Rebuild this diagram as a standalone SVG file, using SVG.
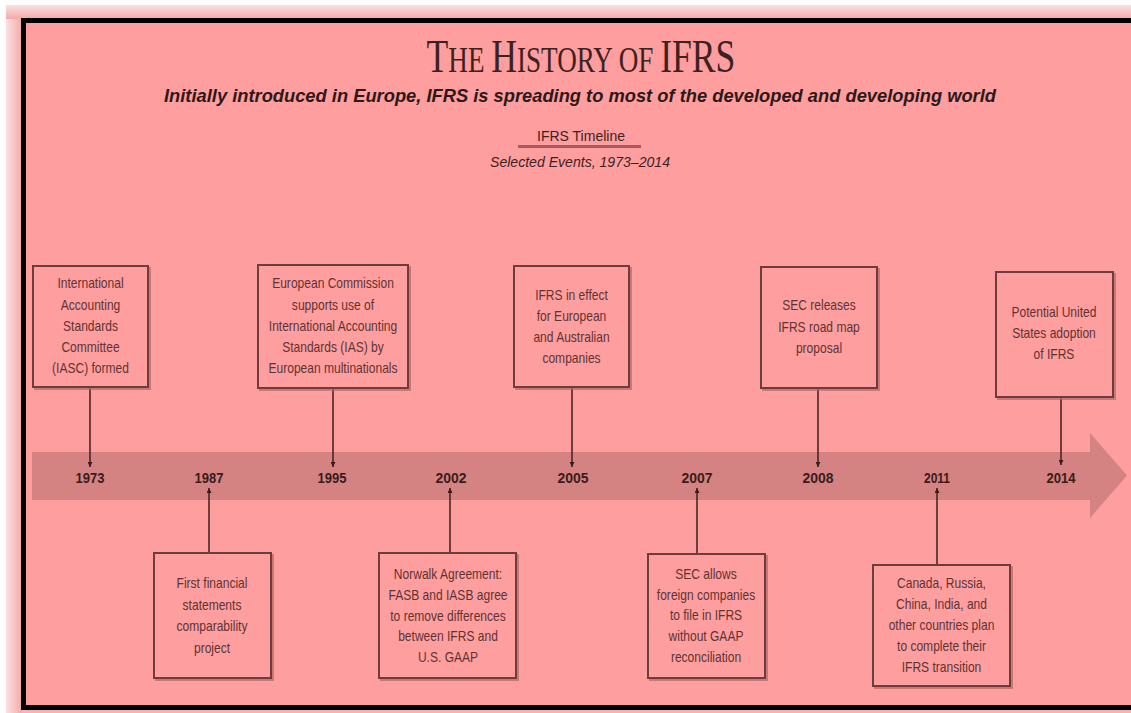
<svg xmlns="http://www.w3.org/2000/svg" width="1131" height="713" viewBox="0 0 1131 713">
<style>
.box{fill:#FE9E9E;stroke:#6E3C3C;stroke-width:2}
.shadow{fill:none;stroke:#B06868;stroke-width:2;opacity:0.7}
.bt{font-family:"Liberation Sans",Arial,sans-serif;font-size:14px;fill:#5E3333;text-anchor:middle}
.yr{font-family:"Liberation Sans",Arial,sans-serif;font-size:15px;font-weight:bold;fill:#3A1C1C;text-anchor:middle}
.conn{stroke:#4A2626;stroke-width:1.6;fill:none}
</style>
<defs>
<marker id="ah" viewBox="0 0 8 8" refX="8" refY="4" markerWidth="5" markerHeight="5" orient="auto" markerUnits="userSpaceOnUse">
<path d="M0,0 L8,4 L0,8 z" fill="#3A1C1C"/>
</marker>
<linearGradient id="gl" x1="0" y1="0" x2="1" y2="0">
<stop offset="0" stop-color="#FCE0E0"/><stop offset="1" stop-color="#F3A9A9"/>
</linearGradient>
<linearGradient id="gt" x1="0" y1="0" x2="0" y2="1">
<stop offset="0" stop-color="#FCE0E0"/><stop offset="1" stop-color="#F3A9A9"/>
</linearGradient>
</defs>
<rect x="0" y="0" width="1131" height="713" fill="#FFFFFF"/>
<rect x="6" y="5" width="1125" height="708" fill="#F6B3B3"/>
<rect x="6" y="5" width="16" height="708" fill="url(#gl)"/>
<rect x="6" y="5" width="1125" height="14" fill="url(#gt)"/>
<rect x="23.5" y="20.5" width="1130" height="687" fill="#FE9E9E" stroke="#000000" stroke-width="5"/>

<g id="title">
<text transform="translate(581,72) scale(0.775,1)" x="0" y="0" text-anchor="middle" font-family="'Liberation Serif','Times New Roman',serif" fill="#3E2222"><tspan font-size="46">T</tspan><tspan font-size="35">HE </tspan><tspan font-size="46">H</tspan><tspan font-size="35">ISTORY OF </tspan><tspan font-size="46">IFRS</tspan></text>
<text x="580" y="102" text-anchor="middle" font-family="'Liberation Sans',Arial,sans-serif" font-size="18" font-weight="bold" font-style="italic" fill="#2E1818" textLength="832" lengthAdjust="spacingAndGlyphs">Initially introduced in Europe, IFRS is spreading to most of the developed and developing world</text>
<text x="581" y="141" text-anchor="middle" font-family="'Liberation Sans',Arial,sans-serif" font-size="14" fill="#3E2222" textLength="88" lengthAdjust="spacingAndGlyphs">IFRS Timeline</text>
<rect x="518" y="145" width="123" height="3" fill="#A85A62"/>
<text x="580" y="167" text-anchor="middle" font-family="'Liberation Sans',Arial,sans-serif" font-size="14" font-style="italic" fill="#3E2222" textLength="180" lengthAdjust="spacingAndGlyphs">Selected Events, 1973–2014</text>
</g>

<g id="timeline">
<path d="M32,452 H1090 V433 L1127,475.5 L1090,518 V500 H32 Z" fill="#D48282"/>
<text class="yr" x="90" y="483" textLength="29" lengthAdjust="spacingAndGlyphs">1973</text>
<text class="yr" x="209" y="483" textLength="29" lengthAdjust="spacingAndGlyphs">1987</text>
<text class="yr" x="332" y="483" textLength="29" lengthAdjust="spacingAndGlyphs">1995</text>
<text class="yr" x="451" y="483" textLength="31" lengthAdjust="spacingAndGlyphs">2002</text>
<text class="yr" x="573" y="483" textLength="31" lengthAdjust="spacingAndGlyphs">2005</text>
<text class="yr" x="697" y="483" textLength="31" lengthAdjust="spacingAndGlyphs">2007</text>
<text class="yr" x="818" y="483" textLength="31" lengthAdjust="spacingAndGlyphs">2008</text>
<text class="yr" x="937" y="483" textLength="26" lengthAdjust="spacingAndGlyphs">2011</text>
<text class="yr" x="1061" y="483" textLength="29" lengthAdjust="spacingAndGlyphs">2014</text>
</g>

<g id="connectors">
<line class="conn" x1="90" y1="387" x2="90" y2="467" marker-end="url(#ah)"/>
<line class="conn" x1="333" y1="388" x2="333" y2="467" marker-end="url(#ah)"/>
<line class="conn" x1="572" y1="387" x2="572" y2="467" marker-end="url(#ah)"/>
<line class="conn" x1="818" y1="388" x2="818" y2="467" marker-end="url(#ah)"/>
<line class="conn" x1="1061" y1="397" x2="1061" y2="465" marker-end="url(#ah)"/>
<line class="conn" x1="209" y1="553" x2="209" y2="488" marker-end="url(#ah)"/>
<line class="conn" x1="450" y1="553" x2="450" y2="488" marker-end="url(#ah)"/>
<line class="conn" x1="697" y1="554" x2="697" y2="488" marker-end="url(#ah)"/>
<line class="conn" x1="937" y1="565" x2="937" y2="488" marker-end="url(#ah)"/>
</g>

<g id="n1973">
<rect class="shadow" x="35" y="268" width="115" height="121"/>
<rect class="box" x="33" y="266" width="115" height="121"/>
<g transform="translate(90.5,0) scale(0.86,1)">
<text class="bt" x="0" y="288">International</text>
<text class="bt" x="0" y="310">Accounting</text>
<text class="bt" x="0" y="331">Standards</text>
<text class="bt" x="0" y="352">Committee</text>
<text class="bt" x="0" y="373">(IASC) formed</text>
</g>
</g>

<g id="n1995">
<rect class="shadow" x="260" y="267" width="150" height="123"/>
<rect class="box" x="258" y="265" width="150" height="123"/>
<g transform="translate(333,0) scale(0.86,1)">
<text class="bt" x="0" y="288">European Commission</text>
<text class="bt" x="0" y="310">supports use of</text>
<text class="bt" x="0" y="331">International Accounting</text>
<text class="bt" x="0" y="352">Standards (IAS) by</text>
<text class="bt" x="0" y="373">European multinationals</text>
</g>
</g>

<g id="n2005">
<rect class="shadow" x="516" y="268" width="115" height="121"/>
<rect class="box" x="514" y="266" width="115" height="121"/>
<g transform="translate(571.5,0) scale(0.86,1)">
<text class="bt" x="0" y="300">IFRS in effect</text>
<text class="bt" x="0" y="321">for European</text>
<text class="bt" x="0" y="342">and Australian</text>
<text class="bt" x="0" y="363">companies</text>
</g>
</g>

<g id="n2008">
<rect class="shadow" x="763" y="269" width="116" height="121"/>
<rect class="box" x="761" y="267" width="116" height="121"/>
<g transform="translate(819,0) scale(0.86,1)">
<text class="bt" x="0" y="310">SEC releases</text>
<text class="bt" x="0" y="332">IFRS road map</text>
<text class="bt" x="0" y="353">proposal</text>
</g>
</g>

<g id="n2014">
<rect class="shadow" x="998" y="274" width="117" height="125"/>
<rect class="box" x="996" y="272" width="117" height="125"/>
<g transform="translate(1054,0) scale(0.86,1)">
<text class="bt" x="0" y="317">Potential United</text>
<text class="bt" x="0" y="338">States adoption</text>
<text class="bt" x="0" y="359">of IFRS</text>
</g>
</g>

<g id="n1987">
<rect class="shadow" x="156" y="555" width="117" height="125"/>
<rect class="box" x="154" y="553" width="117" height="125"/>
<g transform="translate(212,0) scale(0.86,1)">
<text class="bt" x="0" y="588">First financial</text>
<text class="bt" x="0" y="610">statements</text>
<text class="bt" x="0" y="631">comparability</text>
<text class="bt" x="0" y="653">project</text>
</g>
</g>

<g id="n2002">
<rect class="shadow" x="381" y="555" width="137" height="125"/>
<rect class="box" x="379" y="553" width="137" height="125"/>
<g transform="translate(448,0) scale(0.86,1)">
<text class="bt" x="0" y="579">Norwalk Agreement:</text>
<text class="bt" x="0" y="600">FASB and IASB agree</text>
<text class="bt" x="0" y="621">to remove differences</text>
<text class="bt" x="0" y="641">between IFRS and</text>
<text class="bt" x="0" y="662">U.S. GAAP</text>
</g>
</g>

<g id="n2007">
<rect class="shadow" x="650" y="556" width="117" height="124"/>
<rect class="box" x="648" y="554" width="117" height="124"/>
<g transform="translate(706,0) scale(0.86,1)">
<text class="bt" x="0" y="579">SEC allows</text>
<text class="bt" x="0" y="600">foreign companies</text>
<text class="bt" x="0" y="620">to file in IFRS</text>
<text class="bt" x="0" y="641">without GAAP</text>
<text class="bt" x="0" y="662">reconciliation</text>
</g>
</g>

<g id="n2011">
<rect class="shadow" x="875" y="567" width="137" height="121"/>
<rect class="box" x="873" y="565" width="137" height="121"/>
<g transform="translate(941.5,0) scale(0.86,1)">
<text class="bt" x="0" y="588">Canada, Russia,</text>
<text class="bt" x="0" y="609">China, India, and</text>
<text class="bt" x="0" y="630">other countries plan</text>
<text class="bt" x="0" y="651">to complete their</text>
<text class="bt" x="0" y="672">IFRS transition</text>
</g>
</g>
</svg>
